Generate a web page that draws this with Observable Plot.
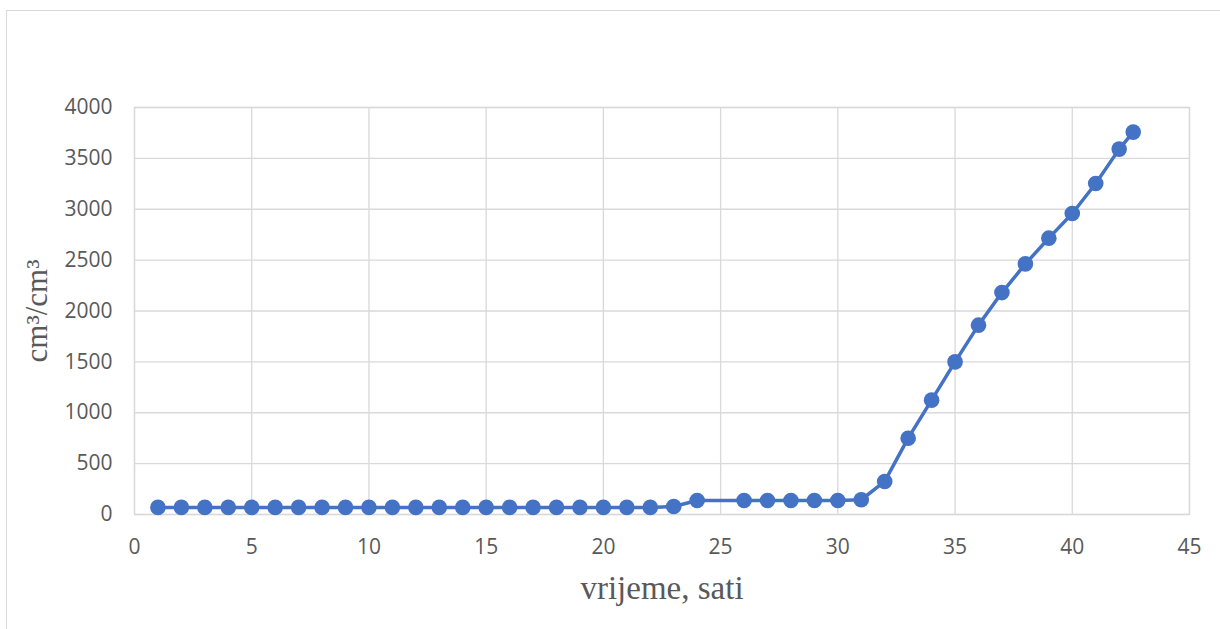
<!DOCTYPE html>
<html>
<head>
<meta charset="utf-8">
<script src="https://cdn.jsdelivr.net/npm/d3@7"></script>
<script src="https://cdn.jsdelivr.net/npm/@observablehq/plot@0.6"></script>
<style>
  html, body { margin: 0; padding: 0; background: #fff; overflow: hidden; }
  #wrap { position: relative; width: 1220px; height: 629px; overflow: hidden; }
  #frame { position: absolute; left: 6px; top: 10px; width: 1400px; height: 800px; border: 1px solid #d9d9d9; box-sizing: border-box; pointer-events: none; }
  #chart { position: absolute; left: 0; top: 0; }
</style>
</head>
<body>
<div id="wrap"><div id="chart"></div><div id="frame"></div></div>
<script>
// time, hours
const hours = [1, 2, 3, 4, 5, 6, 7, 8, 9, 10, 11, 12, 13, 14, 15, 16, 17, 18, 19, 20, 21, 22, 23,
  24, 26, 27, 28, 29, 30, 31, 32, 33, 34, 35, 36, 37, 38, 39, 40, 41, 42, 42.6];
// cm³/cm³
const values = [70, 70, 70, 70, 70, 70, 70, 70, 70, 70, 70, 70, 70, 70, 70, 70, 70, 70, 70, 70, 70, 70, 79,
  138, 138, 138, 138, 138, 138, 145, 325, 750, 1124, 1500, 1861, 2181, 2463, 2716, 2958, 3253, 3591, 3758];
const xLabel = "vrijeme, sati";
const yLabel = "cm³/cm³";

const data = hours.map((h, i) => ({x: h, y: values[i]}));

const blue = "#4472C4";
const tickFont = "'Open Sans', 'Liberation Sans', sans-serif";
const titleFont = "'Liberation Serif', 'DejaVu Serif', serif";

const chart = Plot.plot({
  width: 1220,
  height: 629,
  marginLeft: 134,
  marginRight: 31,
  marginTop: 107,
  marginBottom: 115,
  style: {background: "transparent", overflow: "visible"},
  x: {domain: [0, 45]},
  y: {domain: [0, 4000]},
  marks: [
    Plot.gridX({ticks: 9, stroke: "#d9d9d9", strokeOpacity: 1, strokeWidth: 1.3}),
    Plot.gridY({ticks: 8, stroke: "#d9d9d9", strokeOpacity: 1, strokeWidth: 1.3}),
    Plot.frame({stroke: "#d9d9d9", strokeWidth: 1.3}),
    Plot.axisX({ticks: 9, tickSize: 0, tickPadding: 25, label: null, tickFormat: d3.format("d"), fontSize: 21, fontFamily: tickFont, color: "#595959"}),
    Plot.axisY({ticks: 8, tickSize: 0, tickPadding: 22, label: null, tickFormat: d3.format("d"), fontSize: 21, fontFamily: tickFont, color: "#595959"}),
    Plot.line(data, {x: "x", y: "y", stroke: blue, strokeWidth: 3.5}),
    Plot.dot(data, {x: "x", y: "y", fill: blue, r: 7.8}),
    Plot.text([xLabel], {frameAnchor: "bottom", text: d => d, textAnchor: "middle", dy: 84, fontSize: 33, fontFamily: titleFont, fill: "#595959"}),
    Plot.text([yLabel], {frameAnchor: "left", text: d => d, textAnchor: "middle", lineAnchor: "middle", dx: -97, rotate: -90, fontSize: 31, fontFamily: titleFont, fill: "#595959"})
  ]
});
document.getElementById("chart").appendChild(chart);
</script>
</body>
</html>
